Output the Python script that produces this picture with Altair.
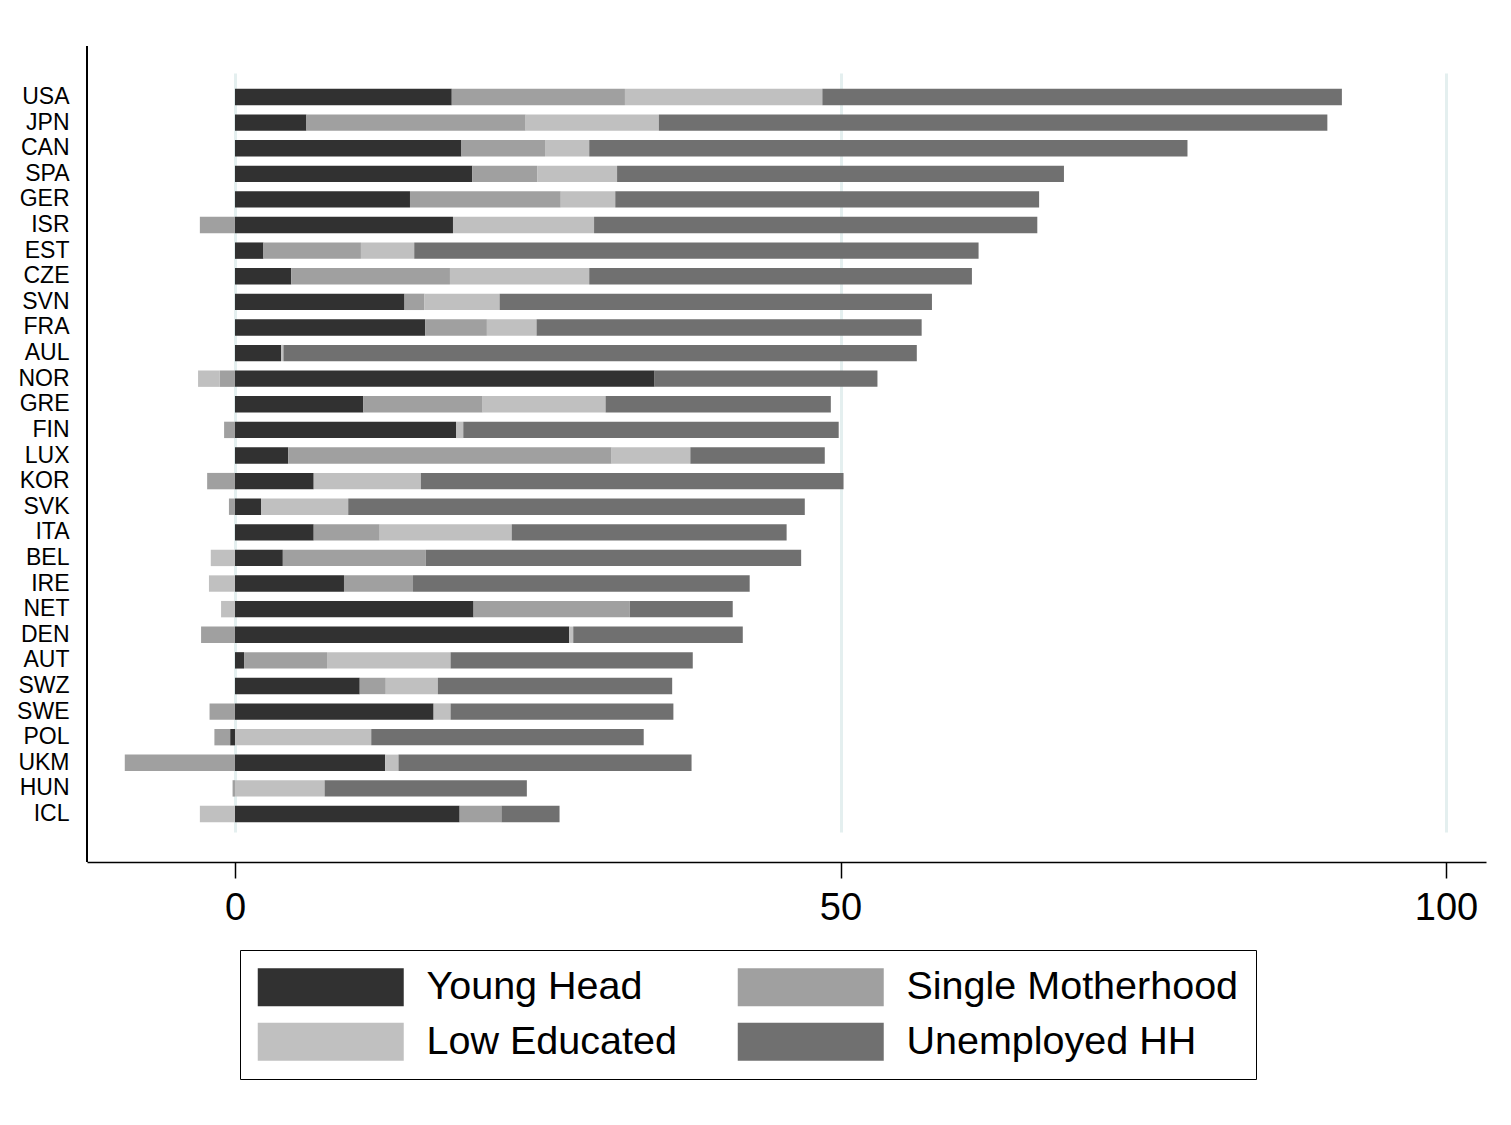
import altair as alt
import pandas as pd

countries = ["USA", "JPN", "CAN", "SPA", "GER", "ISR", "EST", "CZE", "SVN", "FRA",
             "AUL", "NOR", "GRE", "FIN", "LUX", "KOR", "SVK", "ITA", "BEL", "IRE",
             "NET", "DEN", "AUT", "SWZ", "SWE", "POL", "UKM", "HUN", "ICL"]

series = ["Young Head", "Single Motherhood", "Low Educated", "Unemployed HH"]

young_head = [17.9, 5.9, 18.7, 19.6, 14.45, 18.0, 2.35, 4.65, 14.0, 15.7,
              3.8, 34.65, 10.6, 18.25, 4.4, 6.5, 2.15, 6.5, 3.95, 9.0,
              19.7, 27.6, 0.75, 10.3, 16.4, -0.4, 12.4, 0.0, 18.55]
single_mother = [14.3, 18.1, 6.9, 5.35, 12.45, -2.9, 8.05, 13.1, 1.65, 5.1,
                 0.0, -1.25, 9.85, -0.9, 26.7, -2.3, -0.5, 5.45, 11.8, 5.7,
                 12.9, -2.8, 6.85, 2.15, -2.1, -1.3, -9.1, -0.2, 3.45]
low_educ = [16.3, 11.0, 3.65, 6.6, 4.5, 11.65, 4.4, 11.5, 6.2, 4.1,
            0.2, -1.8, 10.15, 0.6, 6.5, 8.85, 7.2, 10.9, -2.0, -2.15,
            -1.15, 0.33, 10.2, 4.3, 1.4, 11.25, 1.1, 7.4, -2.9]
unemployed = [42.9, 55.2, 49.4, 36.9, 35.0, 36.6, 46.6, 31.6, 35.7, 31.8,
              52.3, 18.4, 18.6, 31.0, 11.1, 34.9, 37.7, 22.7, 31.0, 27.8,
              8.5, 14.0, 20.0, 19.35, 18.4, 22.5, 24.2, 16.7, 4.8]

colors = ["#313131", "#a0a0a0", "#c0c0c0", "#707070"]

rows = []
for k, (name, vals) in enumerate(zip(series, [young_head, single_mother, low_educ, unemployed])):
    for c, v in zip(countries, vals):
        rows.append({"country": c, "group": name, "k": k, "value": v})
df = pd.DataFrame(rows)

FONT = "Liberation Sans, Arial, Helvetica, sans-serif"
# wide swatch: nominal symbol 38px square, drawn 146px wide starting at the entry's left edge
swatch = "M-1,-1L6.684,-1L6.684,1L-1,1Z"

bars = alt.Chart(df).mark_bar().encode(
    x=alt.X("value:Q", stack="zero",
            scale=alt.Scale(domain=[-12.22, 103.3], nice=False, zero=False),
            axis=alt.Axis(values=[0, 50, 100], title=None, grid=True,
                          gridColor="#e4efef", gridWidth=3,
                          domainColor="black", domainWidth=1.5,
                          tickColor="black", tickWidth=1.5, tickSize=16,
                          labelFontSize=38, labelColor="black", labelPadding=11,
                          labelFont=FONT)),
    y=alt.Y("country:N", sort=countries,
            scale=alt.Scale(paddingInner=0.36, paddingOuter=0.5, range=[30, 789]),
            axis=alt.Axis(title=None, ticks=False, domain=False,
                          labelFontSize=23, labelColor="black", labelPadding=18,
                          labelFont=FONT, grid=False)),
    color=alt.Color("group:N", scale=alt.Scale(domain=series, range=colors),
                    legend=alt.Legend(title=None, orient="none", legendX=153, legendY=904,
                                      direction="horizontal", columns=2,
                                      symbolType=swatch, symbolSize=1444,
                                      symbolStrokeWidth=0, symbolOpacity=1,
                                      labelFontSize=39.5, labelFont=FONT, labelColor="black",
                                      labelOffset=130, rowPadding=14, columnPadding=60,
                                      padding=17, strokeColor="black", fillColor="white",
                                      labelLimit=0)),
    order=alt.Order("k:Q", sort="ascending"),
)

yaxis_line = alt.Chart(pd.DataFrame({"a": [0]})).mark_rule(color="black", strokeWidth=2).encode(
    x=alt.value(0), y=alt.value(0), y2=alt.value(816)
)

topline = alt.Chart(pd.DataFrame({"a": [0]})).mark_rule(color="#e6eeee", strokeWidth=2).encode(
    x=alt.value(-87), x2=alt.value(1424), y=alt.value(-41)
)

chart = alt.layer(bars, yaxis_line, topline).properties(
    width=1399, height=816,
    autosize=alt.AutoSizeParams(type="none"),
    padding={"left": 79, "top": 38, "right": 10, "bottom": 250},
).configure_view(stroke=None)

chart.save("out.html", embed_options={"renderer": "svg", "actions": False})
